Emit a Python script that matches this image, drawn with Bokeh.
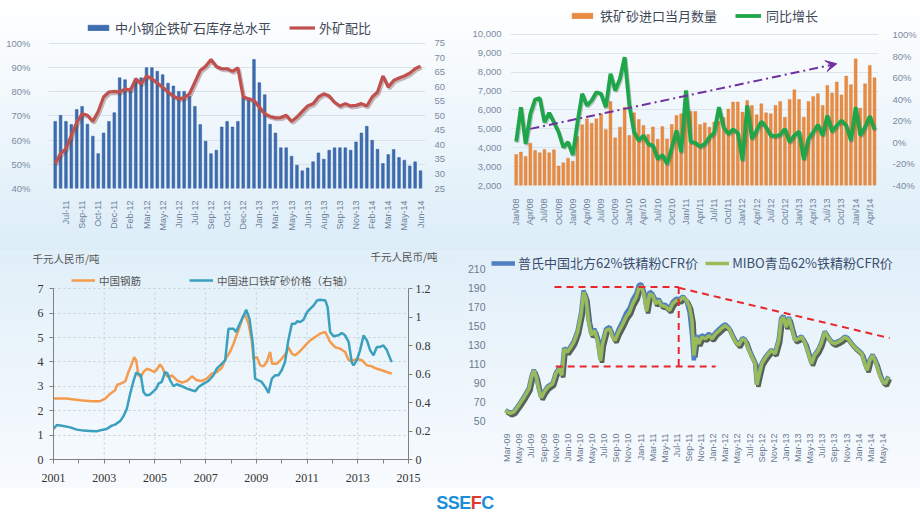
import math
from bokeh.plotting import figure
from bokeh.models import (Range1d, LinearAxis, FixedTicker, Legend, LegendItem, Arrow,
                          VeeHead, NumeralTickFormatter, PrintfTickFormatter, Div, ColumnDataSource)
from bokeh.layouts import column, row
from bokeh.embed import file_html
from bokeh.resources import INLINE
from bokeh.transform import dodge
from bokeh.core.properties import value

# ---------------- data ----------------
# Panel 1: small/medium mills iron-ore inventory (left, %) and imported-ore ratio (right)
p1_inventory = [67.7, 70.2, 67.7, 66.4, 72.6, 73.9, 66.5, 61.6, 54.4, 62.9,
                67.7, 71.3, 85.7, 84.9, 81.5, 85.0, 85.7, 89.9, 89.9, 88.4,
                87.0, 83.5, 82.3, 80.1, 80.1, 78.0, 73.9, 66.4, 59.5, 54.4,
                55.8, 65.4, 67.7, 65.4, 67.7, 77.8, 76.4, 93.3, 83.7, 78.7,
                66.5, 62.9, 56.8, 56.8, 53.3, 49.6, 47.3, 48.5, 51.0, 54.7,
                52.1, 55.8, 56.8, 56.8, 56.8, 55.8, 59.2, 62.9, 65.7, 59.9,
                56.2, 50.3, 54.0, 56.1, 52.8, 51.7, 49.3, 51.0, 47.3]
p1_ratio = [33.6, 37.0, 38.7, 43.3, 47.7, 50.7, 50.2, 48.1, 51.5, 56.5,
            58.2, 58.4, 58.2, 59.3, 58.8, 62.8, 61.0, 63.7, 62.8, 61.3,
            59.9, 58.2, 56.8, 55.9, 56.2, 57.6, 61.6, 65.6, 67.1, 69.4,
            67.0, 66.2, 66.2, 65.3, 66.5, 56.5, 55.9, 55.3, 53.0, 50.7,
            49.8, 49.3, 49.4, 50.2, 48.1, 49.6, 51.5, 53.4, 54.2, 56.5,
            57.6, 56.8, 54.7, 53.4, 54.2, 53.4, 53.6, 54.2, 53.4, 56.5,
            58.2, 63.7, 59.9, 62.2, 63.0, 63.7, 64.7, 66.2, 67.1]
p1_labels = ["Jul-11", "Sep-11", "Oct-11", "Dec-11", "Feb-12", "Mar-12", "May-12", "Jun-12",
             "Jul-12", "Sep-12", "Oct-12", "Dec-12", "Jan-13", "Mar-13", "May-13", "Jun-13",
             "Aug-13", "Sep-13", "Nov-13", "Feb-14", "Mar-14", "May-14", "Jun-14"]

# Panel 2: monthly iron-ore imports (left) and YoY growth % (right), Jan/08 - May/14
p2_imports = [3640, 3770, 3540, 4240, 3860, 3730, 3910, 3730, 3890, 3030, 3200, 3450,
              3290, 4590, 5220, 5530, 5300, 5530, 5800, 4970, 6450, 4530, 5090, 6150,
              4650, 5850, 5500, 5180, 4700, 5100, 4450, 5120, 4470, 5230, 5710, 5800,
              6100, 5930, 5920, 5230, 5320, 5090, 5360, 5400, 5600, 6050, 6420, 6420,
              5890, 6500, 6240, 5750, 6330, 5850, 5800, 6240, 6450, 5620, 6560, 7070,
              6560, 5620, 6450, 6720, 6860, 6240, 7300, 6900, 7480, 6800, 7800, 7340,
              8710, 6100, 7390, 8360, 7710]
p2_yoy = [0.8, 32.6, -1.4, 26.4, 39.7, 41.0, 18.7, 27.4, 18.7, 9.4, -4.5, 0.2,
          -11.6, 18.7, 45.0, 34.2, 38.8, 46.5, 45.0, 32.6, 63.5, 48.1, 58.9, 79.0,
          34.0, 9.4, 1.7, 6.4, -1.4, -2.9, -15.3, -11.6, -19.9, -5.0, 11.0, -9.1,
          48.1, 0.5, -0.4, -4.0, -1.4, 4.8, 8.8, 32.6, 14.0, 7.9, 11.9, 8.8,
          -16.8, 34.2, 3.3, 11.0, 19.3, 14.1, 6.4, 5.7, 7.0, 12.5, 0.2, 6.4,
          10.0, -15.9, 3.3, 9.4, 16.2, 6.4, 24.9, 10.0, 15.6, 20.3, 15.6, 1.7,
          32.6, 6.4, 14.1, 24.3, 11.9]
p2_labels = ["Jan/08", "Apr/08", "Jul/08", "Oct/08", "Jan/09", "Apr/09", "Jul/09", "Oct/09",
             "Jan/10", "Apr/10", "Jul/10", "Oct/10", "Jan/11", "Apr/11", "Jul/11", "Oct/11",
             "Jan/12", "Apr/12", "Jul/12", "Oct/12", "Jan/13", "Apr/13", "Jul/13", "Oct/13",
             "Jan/14", "Apr/14"]
p2_trend_x = [3, 68]
p2_trend_y = [5000, 8450]

# Panel 3: China rebar price (left, k RMB/t) and imported ore price (right, k RMB/t)
p3_rebar_t = [2001.0, 2001.5, 2002.05, 2002.5, 2002.84, 2003.04, 2003.24, 2003.43, 2003.52, 2003.63,
              2003.83, 2003.96, 2004.09, 2004.18, 2004.26, 2004.35, 2004.44, 2004.55, 2004.68, 2004.84,
              2004.97, 2005.07, 2005.2, 2005.3, 2005.4, 2005.53, 2005.67, 2005.86, 2006.06, 2006.26,
              2006.46, 2006.65, 2006.85, 2007.05, 2007.24, 2007.44, 2007.64, 2007.77, 2007.96, 2008.1,
              2008.3, 2008.47, 2008.56, 2008.69, 2008.82, 2008.89, 2009.02, 2009.15, 2009.28, 2009.41,
              2009.54, 2009.62, 2009.81, 2010.0, 2010.2, 2010.26, 2010.4, 2010.53, 2010.73, 2010.93,
              2011.12, 2011.32, 2011.51, 2011.72, 2011.91, 2012.1, 2012.31, 2012.5, 2012.64, 2012.77,
              2012.96, 2013.16, 2013.36, 2013.55, 2013.75, 2013.95, 2014.14, 2014.34]
p3_rebar = [2.50, 2.50, 2.43, 2.39, 2.39, 2.50, 2.70, 2.84, 3.08, 3.10,
            3.20, 3.60, 3.93, 4.20, 4.07, 3.45, 3.38, 3.59, 3.72, 3.66,
            3.59, 3.68, 3.90, 3.76, 3.49, 3.38, 3.45, 3.25, 3.15, 3.22,
            3.41, 3.25, 3.22, 3.32, 3.52, 3.59, 3.76, 4.09, 4.41, 4.75,
            5.32, 5.85, 5.92, 5.57, 4.88, 4.13, 4.20, 3.86, 3.82, 4.00,
            4.41, 3.93, 3.93, 4.13, 4.41, 4.61, 4.34, 4.27, 4.45, 4.68,
            4.88, 5.02, 5.16, 5.23, 4.82, 4.61, 4.54, 4.41, 4.07, 4.04,
            4.13, 4.07, 3.86, 3.82, 3.72, 3.66, 3.59, 3.52]
p3_ore_t = [2001.0, 2001.13, 2001.39, 2001.66, 2001.92, 2002.18, 2002.45, 2002.71, 2002.91, 2003.1,
            2003.3, 2003.43, 2003.63, 2003.76, 2003.89, 2004.02, 2004.16, 2004.26, 2004.35, 2004.44,
            2004.55, 2004.65, 2004.79, 2004.92, 2005.05, 2005.14, 2005.27, 2005.4, 2005.5, 2005.6,
            2005.73, 2005.86, 2006.06, 2006.26, 2006.46, 2006.59, 2006.72, 2006.92, 2007.11, 2007.31,
            2007.44, 2007.64, 2007.77, 2007.9, 2008.1, 2008.2, 2008.3, 2008.5, 2008.6, 2008.73,
            2008.86, 2008.95, 2009.08, 2009.21, 2009.35, 2009.48, 2009.61, 2009.74, 2009.87, 2010.0,
            2010.13, 2010.26, 2010.4, 2010.53, 2010.62, 2010.73, 2010.86, 2011.0, 2011.13, 2011.26,
            2011.39, 2011.52, 2011.72, 2011.81, 2011.91, 2012.04, 2012.24, 2012.37, 2012.5, 2012.64,
            2012.76, 2012.83, 2012.96, 2013.09, 2013.23, 2013.36, 2013.49, 2013.62, 2013.75, 2013.88,
            2014.01, 2014.14, 2014.28, 2014.34]
p3_ore = [0.215, 0.243, 0.236, 0.226, 0.210, 0.203, 0.201, 0.199, 0.208, 0.215,
          0.238, 0.245, 0.270, 0.305, 0.355, 0.460, 0.555, 0.610, 0.600, 0.595,
          0.475, 0.451, 0.455, 0.475, 0.498, 0.533, 0.545, 0.615, 0.604, 0.557,
          0.515, 0.529, 0.515, 0.498, 0.487, 0.480, 0.510, 0.533, 0.552, 0.592,
          0.639, 0.674, 0.697, 0.919, 0.919, 0.896, 0.936, 1.013, 1.053, 0.989,
          0.814, 0.568, 0.557, 0.545, 0.510, 0.468, 0.568, 0.592, 0.592, 0.627,
          0.685, 0.837, 0.954, 0.954, 0.973, 0.966, 0.982, 1.036, 1.060, 1.083,
          1.118, 1.123, 1.118, 1.071, 0.896, 0.866, 0.873, 0.889, 0.873, 0.826,
          0.685, 0.662, 0.697, 0.767, 0.873, 0.837, 0.767, 0.732, 0.791, 0.791,
          0.802, 0.772, 0.709, 0.685]
p3_unit = "千元人民币/吨"

# Panel 4: Platts / MIBO 62% fines CFR prices; x = months since Mar-09
p4_m = [-0.3, 0.5, 1.1, 1.9, 2.8, 3.6, 4.0, 4.4, 4.8, 5.2,
        5.6, 6.1, 6.7, 7.5, 8.0, 8.6, 9.0, 9.4, 9.9, 10.5,
        11.0, 11.6, 12.2, 12.6, 13.0, 13.4, 13.9, 14.4, 14.9, 15.4,
        15.7, 16.3, 16.9, 17.4, 17.8, 18.3, 19.1, 19.6, 20.2, 20.7,
        21.3, 21.7, 22.1, 22.6, 23.0, 23.5, 24.0, 24.5, 25.0, 25.4,
        26.1, 26.8, 27.3, 27.9, 28.5, 29.0, 29.6, 30.1, 30.5, 30.8,
        31.2, 31.6, 32.1, 32.7, 33.3, 33.8, 34.4, 34.9, 35.5, 36.0,
        36.6, 37.1, 37.7, 38.2, 38.8, 39.3, 39.9, 40.4, 40.9, 41.2,
        41.6, 42.0, 42.5, 43.1, 43.6, 44.2, 44.8, 45.2, 45.6, 46.0,
        46.5, 46.9, 47.5, 48.1, 48.6, 49.2, 49.7, 50.2, 50.7, 51.3,
        51.8, 52.4, 52.9, 53.5, 54.0, 54.6, 55.1, 55.7, 56.2, 56.8,
        57.3, 57.9, 58.5, 59.0, 59.4, 59.8, 60.3, 60.9, 61.5, 62.0,
        62.4, 62.9]
p4_mibo = [60.6, 57.5, 59.0, 66.0, 74.7, 83.5, 95.8, 102.8, 95.8, 83.5,
           74.0, 80.0, 85.2, 88.7, 99.3, 104.6, 97.5, 125.6, 122.0, 127.4,
           132.7, 143.2, 162.5, 185.4, 178.4, 155.5, 139.7, 145.0, 134.4, 113.0,
           130.0, 145.0, 146.7, 137.9, 134.4, 142.2, 152.0, 159.0, 164.3, 173.1,
           180.1, 189.0, 192.0, 181.9, 165.0, 183.6, 181.9, 173.1, 176.6, 171.3,
           170.3, 166.0, 173.0, 176.6, 176.6, 180.1, 176.6, 169.6, 155.5, 118.6,
           137.9, 130.9, 137.9, 136.2, 139.7, 136.2, 141.5, 144.3, 147.8, 150.2,
           146.7, 139.7, 132.7, 129.2, 136.2, 134.4, 123.9, 116.9, 109.8, 87.5,
           99.3, 109.8, 115.1, 120.4, 123.9, 120.4, 134.4, 156.0, 159.0, 148.5,
           158.0, 148.5, 134.4, 136.2, 137.9, 130.9, 120.4, 109.8, 118.6, 123.9,
           130.9, 143.2, 137.9, 132.7, 130.9, 132.7, 134.4, 137.9, 136.2, 130.9,
           127.4, 123.9, 120.4, 109.8, 102.8, 113.3, 118.6, 109.8, 97.5, 90.5,
           88.7, 95.8]
p4_platts = [61.0, 58.0, 59.5, 66.5, 75.5, 84.5, 96.5, 103.5, 96.5, 84.0,
             74.5, 80.5, 86.0, 89.5, 100.0, 105.5, 98.5, 126.5, 123.0, 128.5,
             134.0, 144.5, 164.0, 187.0, 180.0, 157.0, 141.0, 146.5, 136.0, 114.5,
             131.5, 146.5, 148.5, 139.5, 136.5, 145.0, 155.5, 163.0, 168.5, 177.5,
             184.0, 192.5, 194.0, 184.0, 168.0, 186.0, 183.5, 175.0, 178.0, 173.0,
             172.0, 168.0, 175.0, 178.5, 178.0, 181.0, 176.0, 164.0, 140.0, 113.5,
             140.0, 133.0, 140.0, 138.0, 141.5, 138.0, 143.0, 146.0, 149.5, 151.5,
             147.5, 140.5, 133.5, 130.0, 137.0, 135.0, 124.5, 117.5, 110.5, 88.0,
             100.0, 110.5, 116.0, 121.0, 124.5, 121.0, 135.5, 157.5, 160.5, 149.5,
             159.0, 149.5, 135.0, 137.0, 138.5, 131.5, 121.0, 110.5, 119.0, 124.5,
             131.5, 144.0, 138.5, 133.5, 131.5, 133.5, 135.0, 138.5, 137.0, 131.5,
             128.0, 124.5, 121.0, 110.5, 103.5, 114.0, 119.5, 110.5, 98.5, 91.0,
             89.5, 96.5]
p4_labels = ["Mar-09", "May-09", "Jul-09", "Sep-09", "Nov-09", "Jan-10", "Mar-10", "May-10",
             "Jul-10", "Sep-10", "Nov-10", "Jan-11", "Mar-11", "May-11", "Jul-11", "Sep-11",
             "Nov-11", "Jan-12", "Mar-12", "May-12", "Jul-12", "Sep-12", "Nov-12", "Jan-13",
             "Mar-13", "May-13", "Jul-13", "Sep-13", "Nov-13", "Jan-14", "Mar-14", "May-14"]
# red dashed guide lines (x in months since Mar-09, y in USD/t)
p4_guide_xs = [[7.8, 28.3], [8.0, 34.4], [28.3, 28.3], [28.3, 63.1]]
p4_guide_ys = [[190.7, 190.7], [107.0, 107.0], [190.7, 107.0], [190.0, 136.9]]

# ---------------- styling helpers ----------------
CJK = "Noto Sans CJK SC"
SANS = "Liberation Sans"
SERIF = "Liberation Serif"
TOP_BG = "linear-gradient(180deg, #ffffff 0%, #dcedf8 100%)"
BOT_BG = "linear-gradient(180deg, #e1eff9 0%, #f8fbfe 100%)"


def no_align(p):
    try:
        p.frame_align = False
    except Exception:
        pass


def base(width, height, xr, yr, mb, bg):
    p = figure(width=width, height=height, x_range=xr, y_range=yr, output_backend="svg",
               toolbar_location=None, min_border_left=mb[0], min_border_right=mb[1],
               min_border_top=mb[2], min_border_bottom=mb[3],
               background_fill_alpha=0, border_fill_alpha=0, outline_line_color=None,
               styles={"background": bg})
    p.xgrid.grid_line_color = None
    p.ygrid.grid_line_color = None
    no_align(p)
    return p


def style_axis(ax, size, color, font=SANS, line=None, standoff=5):
    ax.major_label_text_font = font
    ax.major_label_text_font_size = size
    ax.major_label_text_color = color
    ax.axis_line_color = line
    ax.major_tick_line_color = line
    ax.minor_tick_line_color = None
    ax.major_label_standoff = standoff


def make_legend(items, loc, size, color, gw, gh, standoff, spacing):
    return Legend(items=items, orientation="horizontal", location=loc,
                  background_fill_alpha=0, border_line_color=None,
                  label_text_font=CJK, label_text_font_size=size, label_text_color=color,
                  glyph_width=gw, glyph_height=gh, label_standoff=standoff, spacing=spacing,
                  padding=2, margin=0, label_height=16)


# ---------------- panel 1 (frame reaches figure top, legend inside) ----------------
x1 = list(range(1, len(p1_inventory) + 1))
p1 = base(460, 250, Range1d(-0.25, 69.93), Range1d(40, 117.63), (48, 35, 0, 62), TOP_BG)
p1.extra_y_ranges = {"r": Range1d(25, 89.69)}
p1.ygrid.grid_line_color = "#d9e1ea"
rb1 = p1.vbar(x=x1, top=p1_inventory, bottom=40, width=0.5, fill_color="#3d6cb0",
              line_color="#2f5b9c", line_width=0.5)
s1 = ColumnDataSource(dict(x=x1, y=p1_ratio))
p1.line(x=dodge("x", 0.25), y=dodge("y", -0.6), source=s1, y_range_name="r",
        line_color="#6b4040", line_alpha=0.35, line_width=3.5)
rl1 = p1.line("x", "y", source=s1, y_range_name="r", line_color="#c0504d", line_width=3.2)
p1.yaxis.ticker = FixedTicker(ticks=list(range(40, 101, 10)))
p1.yaxis.formatter = PrintfTickFormatter(format="%d%%")
style_axis(p1.yaxis[0], "9.5px", "#7b8aa1", standoff=12)
ax1r = LinearAxis(y_range_name="r", ticker=FixedTicker(ticks=list(range(25, 76, 5))))
style_axis(ax1r, "9.5px", "#7b8aa1", standoff=3)
p1.add_layout(ax1r, "right")
t1 = x1[2::3]
p1.xaxis.ticker = FixedTicker(ticks=t1)
p1.xaxis.major_label_overrides = {t: lab for t, lab in zip(t1, p1_labels)}
p1.xaxis.major_label_orientation = math.pi / 2
style_axis(p1.xaxis[0], "9px", "#6f7f99", standoff=6)
p1.add_layout(make_legend([LegendItem(label="中小钢企铁矿石库存总水平", renderers=[rb1]),
                           LegendItem(label="外矿配比", renderers=[rl1])],
                          (37, 151), "13px", "#3f4757", 26, 7, 4, 18))

# ---------------- panel 2 ----------------
x2 = list(range(len(p2_imports)))
p2 = base(460, 250, Range1d(-1.21, 76.85), Range1d(2000, 11801), (50, 42, 0, 65), TOP_BG)
p2.extra_y_ranges = {"r": Range1d(-40, 131.5)}
p2.ygrid.grid_line_color = "#dde4ec"
rb2 = p2.vbar(x=x2, top=p2_imports, bottom=2000, width=0.62, fill_color="#e98c42",
              line_color="#d97a30", line_width=0.4)
s2 = ColumnDataSource(dict(x=x2, y=p2_yoy))
p2.line(x=dodge("x", 0.2), y=dodge("y", -1.2), source=s2, y_range_name="r",
        line_color="#2f4a30", line_alpha=0.3, line_width=4)
rl2 = p2.line("x", "y", source=s2, y_range_name="r", line_color="#1fa64a", line_width=3.8)
p2.add_layout(Arrow(end=VeeHead(size=11, fill_color="#7030a0", line_color="#7030a0"),
                    x_start=p2_trend_x[0], y_start=p2_trend_y[0],
                    x_end=p2_trend_x[1], y_end=p2_trend_y[1],
                    line_color="#7030a0", line_width=2, line_dash="9 4 2 4"))
p2.yaxis.ticker = FixedTicker(ticks=list(range(2000, 10001, 1000)))
p2.yaxis.formatter = NumeralTickFormatter(format="0,0")
style_axis(p2.yaxis[0], "9.5px", "#7b8aa1", standoff=3)
ax2r = LinearAxis(y_range_name="r", ticker=FixedTicker(ticks=list(range(-40, 101, 20))),
                  formatter=PrintfTickFormatter(format="%d%%"))
style_axis(ax2r, "9.5px", "#7b8aa1", standoff=8)
p2.add_layout(ax2r, "right")
t2 = x2[::3]
p2.xaxis.ticker = FixedTicker(ticks=t2)
p2.xaxis.major_label_overrides = {t: lab for t, lab in zip(t2, p2_labels)}
p2.xaxis.major_label_orientation = math.pi / 2
style_axis(p2.xaxis[0], "9px", "#6f7f99", standoff=7)
p2.add_layout(make_legend([LegendItem(label="铁矿砂进口当月数量", renderers=[rb2]),
                           LegendItem(label="同比增长", renderers=[rl2])],
                          (59, 160), "13px", "#3f4757", 26, 7, 5, 18))

# ---------------- panel 3 (header strip with unit titles + chart) ----------------
p3h = figure(width=460, height=18, x_range=Range1d(0, 460), y_range=Range1d(18, 0),
             output_backend="svg", toolbar_location=None, x_axis_type=None, y_axis_type=None,
             min_border=0, background_fill_alpha=0, border_fill_alpha=0, outline_line_color=None,
             styles={"background": "#e1eff9"})
no_align(p3h)
p3h.xgrid.grid_line_color = None
p3h.ygrid.grid_line_color = None
p3h.text(x=[32], y=[7.5], text=[p3_unit], text_font=value(CJK), text_font_size="10.5px",
         text_color="#555555", text_baseline="middle", text_align="left")
p3h.text(x=[437], y=[5.5], text=[p3_unit], text_font=value(CJK), text_font_size="10.5px",
         text_color="#555555", text_baseline="middle", text_align="right")

p3 = base(460, 220, Range1d(2001, 2015), Range1d(0, 7.832), (53, 52, 0, 29),
          "linear-gradient(180deg, #e2f0f9 0%, #f8fbfe 100%)")
p3.extra_y_ranges = {"r": Range1d(0, 1.3426)}
odd_years = list(range(2001, 2016, 2))
p3.segment(x0=odd_years[1:-1], y0=0, x1=odd_years[1:-1], y1=7, line_color="#c4ccd6",
           line_dash="2 3", line_width=1)
p3.ygrid.grid_line_color = "#c4ccd6"
p3.ygrid.grid_line_dash = "2 3"
rl3a = p3.line(p3_rebar_t, p3_rebar, line_color="#f59b4e", line_width=2.5)
rl3b = p3.line(p3_ore_t, p3_ore, y_range_name="r", line_color="#3aa0bd", line_width=2.5)
p3.xaxis.ticker = FixedTicker(ticks=odd_years, minor_ticks=list(range(2002, 2015, 2)))
p3.yaxis.ticker = FixedTicker(ticks=list(range(0, 8)))
p3.yaxis.bounds = (0, 7)
style_axis(p3.xaxis[0], "12px", "#333333", font=SERIF, line="#808080", standoff=10)
style_axis(p3.yaxis[0], "12px", "#333333", font=SERIF, line="#808080", standoff=6)
for ax in (p3.xaxis[0], p3.yaxis[0]):
    ax.major_tick_out = 4
    ax.major_tick_in = 0
p3.xaxis.minor_tick_line_color = "#808080"
p3.xaxis.minor_tick_out = 4
p3.xaxis.minor_tick_in = 0
ax3r = LinearAxis(y_range_name="r", ticker=FixedTicker(ticks=[0, 0.2, 0.4, 0.6, 0.8, 1.0, 1.2]),
                  formatter=NumeralTickFormatter(format="0.[0]"), bounds=(0, 1.2))
style_axis(ax3r, "12px", "#333333", font=SERIF, line="#808080", standoff=3)
ax3r.major_tick_out = 4
ax3r.major_tick_in = 0
p3.add_layout(ax3r, "right")
p3.add_layout(make_legend([LegendItem(label="中国钢筋", renderers=[rl3a]),
                           LegendItem(label="中国进口铁矿砂价格（右轴）", renderers=[rl3b])],
                          (18, 171), "10.5px", "#555555", 24, 6, 4, 48))

# ---------------- panel 4 ----------------
p4 = base(460, 238, Range1d(-2.59, 68.2), Range1d(50, 229.3), (31, 0, 0, 68), BOT_BG)
p4.ygrid.ticker = FixedTicker(ticks=[50])
p4.ygrid.grid_line_color = "#cfd8e2"
p4.ygrid.grid_line_dash = "2 2"
s4 = ColumnDataSource(dict(m=p4_m, pl=p4_platts, mb=p4_mibo))
p4.line(x=dodge("m", 0.25), y=dodge("mb", -2.0), source=s4, line_color="#243020",
        line_alpha=0.75, line_width=4.5)
rl4a = p4.line("m", "pl", source=s4, line_color="#4f7fbf", line_width=4.5)
rl4b = p4.line("m", "mb", source=s4, line_color="#9bbb59", line_width=3.5)
p4.multi_line(xs=p4_guide_xs, ys=p4_guide_ys, line_color="#e8262b", line_width=2,
              line_dash="7 5")
p4.yaxis.ticker = FixedTicker(ticks=list(range(50, 211, 20)))
style_axis(p4.yaxis[0], "10.5px", "#6b7a90", standoff=0)
t4 = list(range(0, 2 * len(p4_labels), 2))
p4.xaxis.ticker = FixedTicker(ticks=t4)
p4.xaxis.major_label_overrides = {t: lab for t, lab in zip(t4, p4_labels)}
p4.xaxis.major_label_orientation = math.pi / 2
style_axis(p4.xaxis[0], "9px", "#6b7a90", standoff=7)
p4.add_layout(make_legend([LegendItem(label="普氏中国北方62%铁精粉CFR价", renderers=[rl4a]),
                           LegendItem(label="MIBO青岛62%铁精粉CFR价", renderers=[rl4b])],
                          (0, 148), "13px", "#3a4d6e", 24, 6, 3, 7))

# ---------------- logo + layout ----------------
logo = Div(text='<div style="width:920px;text-align:center;font-family:\'Liberation Sans\';'
                'font-weight:bold;font-size:18px;letter-spacing:-0.5px;color:#1b8fd8;'
                'line-height:20px;">SSE<span style="color:#e03a2f">F</span>C</div>',
           width=920, height=28)

layout = column(row(p1, p2), row(column(p3h, p3), p4), logo)
open("out.html", "w").write(file_html(layout, INLINE))
